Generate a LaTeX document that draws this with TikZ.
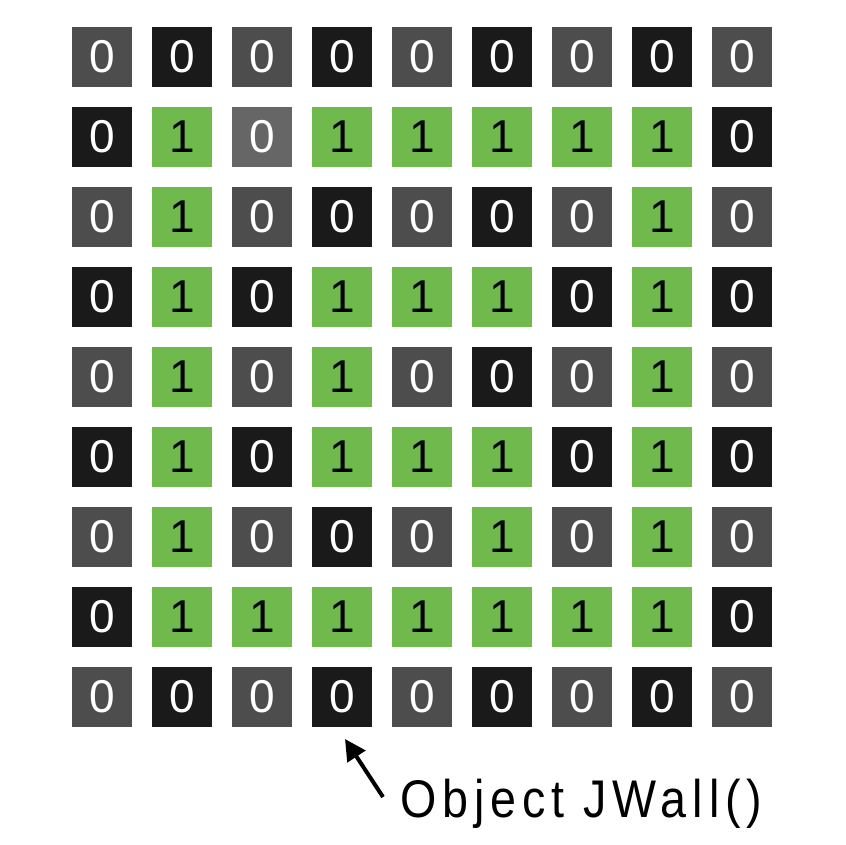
\documentclass[tikz,border=0pt]{standalone}
\usepackage{fontspec}
\usepackage{graphicx}
\setmainfont{Liberation Sans}
\newfontfamily\labelfont[LetterSpace=12.7]{Liberation Sans}
\usetikzlibrary{arrows.meta}
\definecolor{cgray}{HTML}{4D4D4D}
\definecolor{cblack}{HTML}{1A1A1A}
\definecolor{clight}{HTML}{666666}
\definecolor{cgreen}{HTML}{70B94C}
\tikzset{
  cellbase/.style={minimum size=60pt, inner sep=0pt, outer sep=0pt,
    font=\fontsize{46}{46}\selectfont},
  cellg/.style={cellbase, fill=cgray, text=white, node contents=0},
  cellk/.style={cellbase, fill=cblack, text=white, node contents=0},
  celll/.style={cellbase, fill=clight, text=white, node contents=0},
  cellG/.style={cellbase, fill=cgreen, text=black, node contents=1},
  pointer/.style={line width=4pt, -{Triangle[length=21pt,width=21pt]}},
}
\begin{document}
\begin{tikzpicture}[x=1pt,y=-1pt]
\useasboundingbox (0,0) rectangle (845,845);
\foreach \row [count=\j from 0] in {
  {g,k,g,k,g,k,g,k,g},
  {k,G,l,G,G,G,G,G,k},
  {g,G,g,k,g,k,g,G,g},
  {k,G,k,G,G,G,k,G,k},
  {g,G,g,G,g,k,g,G,g},
  {k,G,k,G,G,G,k,G,k},
  {g,G,g,k,g,G,g,G,g},
  {k,G,G,G,G,G,G,G,k},
  {g,k,g,k,g,k,g,k,g}} {
  \foreach \c [count=\i from 0] in \row {
    \node (c-\i-\j) at ({102+80*\i},{57+80*\j}) [cell\c];
  }
}
\node[anchor=base west, inner sep=0pt, font=\fontsize{53}{53}\selectfont\labelfont]
  (label) at (400,817) {\scalebox{0.88}[1]{Object JWall()}};
\coordinate (tail) at (383,797);
\coordinate (head) at (345,739);
\draw[pointer] (tail) -- (head);
\end{tikzpicture}
\end{document}
